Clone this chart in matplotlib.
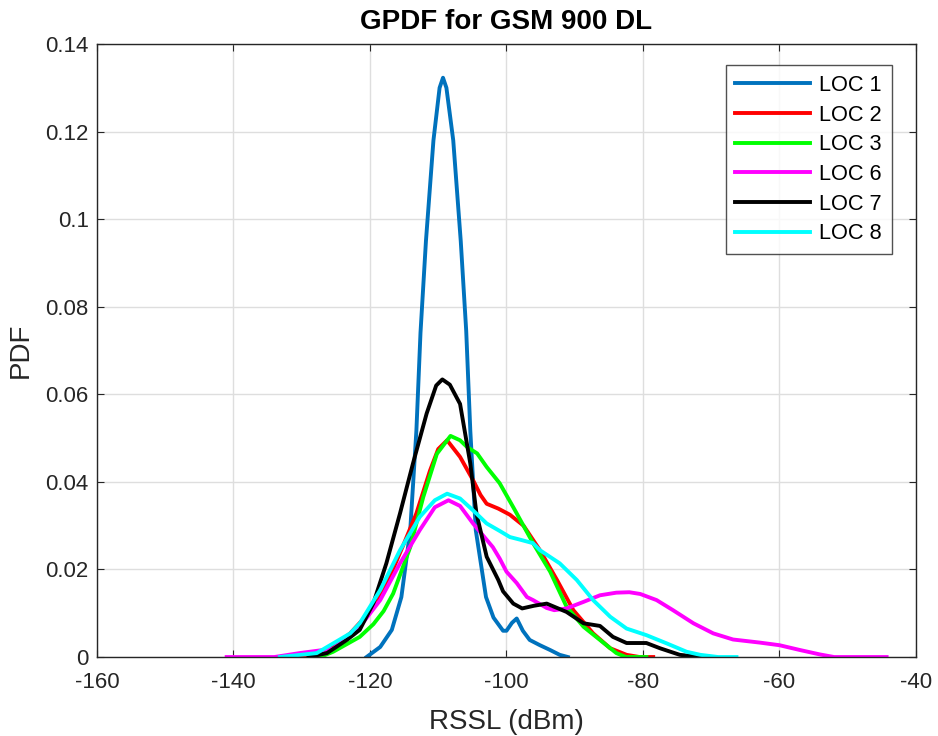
import matplotlib
matplotlib.use("Agg")
import matplotlib.pyplot as plt

plt.rcParams['font.family'] = ['Liberation Sans', 'DejaVu Sans']
plt.rcParams['axes.unicode_minus'] = False

# (RSSL in dBm, PDF)
loc1_x = [-120.5, -118.5, -116.8, -115.4, -114.1, -113.2, -112.6, -111.8, -110.7, -109.8,
          -109.3, -108.8, -107.8, -106.7, -105.9, -105.3, -104.5, -103.0, -101.9, -100.5,
          -100.0, -99.2, -98.5, -97.6, -96.6, -95.1, -93.6, -92.2, -91.0]
loc1_y = [0, 0.0023, 0.0062, 0.0137, 0.029, 0.0517, 0.074, 0.095, 0.118, 0.130,
          0.1323, 0.130, 0.118, 0.095, 0.0745, 0.0517, 0.029, 0.0137, 0.009, 0.006,
          0.006, 0.0078, 0.0088, 0.006, 0.0039, 0.0027, 0.0016, 0.0005, 0]

loc2_x = [-130.3, -127.5, -125.4, -122.9, -120.5, -118.5, -116.5, -115.0, -113.2, -111.2,
          -110.0, -108.7, -106.8, -104.9, -103.8, -102.9, -101.2, -99.5, -97.5, -95.1,
          -92.6, -90.2, -87.3, -84.8, -82.4, -80.5, -78.5]
loc2_y = [0, 0.0008, 0.0023, 0.0054, 0.0095, 0.014, 0.0205, 0.026, 0.0328, 0.0426,
          0.0475, 0.0495, 0.0457, 0.0404, 0.037, 0.035, 0.0339, 0.0325, 0.030, 0.0244,
          0.0176, 0.0107, 0.0054, 0.002, 0.0005, 0, 0]

loc3_x = [-127.3, -125.4, -121.5, -119.5, -118.0, -116.6, -114.1, -112.2, -110.2, -108.2,
          -106.8, -105.8, -104.3, -102.9, -101.0, -99.0, -98.5, -96.1, -93.6, -91.2,
          -88.7, -86.3, -83.9, -82.5, -79.5]
loc3_y = [0, 0.0012, 0.0046, 0.0075, 0.0105, 0.0145, 0.0251, 0.0365, 0.0464, 0.0505,
          0.0495, 0.048, 0.0465, 0.0434, 0.0397, 0.0342, 0.0328, 0.026, 0.0195, 0.0115,
          0.0069, 0.0039, 0.0009, 0, 0]

loc6_x = [-141.0, -134.0, -130.3, -125.4, -121.5, -118.5, -115.6, -112.7, -110.5, -108.5,
          -106.8, -104.9, -102.0, -101.0, -100.0, -98.5, -97.0, -96.1, -94.1, -93.0,
          -91.2, -88.7, -86.3, -83.9, -82.0, -80.4, -78.0, -75.6, -72.6, -69.7,
          -66.8, -62.9, -60.0, -57.0, -54.1, -52.0, -44.3]
loc6_y = [0, 0, 0.0009, 0.0019, 0.0069, 0.013, 0.0214, 0.029, 0.0342, 0.0358,
          0.0345, 0.0305, 0.0251, 0.0225, 0.0195, 0.0169, 0.0137, 0.013, 0.0112, 0.0107,
          0.0111, 0.0126, 0.0141, 0.0147, 0.0148, 0.0144, 0.013, 0.0107, 0.0077, 0.0054,
          0.004, 0.0033, 0.0027, 0.0016, 0.0006, 0, 0]

loc7_x = [-129.0, -126.3, -123.4, -121.5, -119.5, -117.6, -115.6, -113.7, -111.7, -110.3,
          -109.4, -108.3, -106.8, -105.3, -104.4, -102.9, -101.2, -100.5, -99.0, -97.7,
          -96.0, -94.1, -91.2, -88.7, -86.3, -84.4, -82.4, -79.5, -77.5, -74.6, -71.6]
loc7_y = [0, 0.0009, 0.0039, 0.0062, 0.0123, 0.0214, 0.0328, 0.0442, 0.0556, 0.062,
          0.0634, 0.0622, 0.0578, 0.0442, 0.0328, 0.0229, 0.0176, 0.015, 0.0122, 0.0111,
          0.0117, 0.0122, 0.0103, 0.0077, 0.0071, 0.0046, 0.0032, 0.0032, 0.002, 0.0005, 0]

loc8_x = [-133.2, -127.8, -122.9, -121.5, -118.5, -115.6, -112.7, -110.5, -108.7, -106.8,
          -104.9, -102.9, -101.0, -99.5, -98.0, -96.1, -95.1, -92.2, -89.7, -87.3,
          -84.8, -82.4, -79.5, -76.5, -73.6, -71.6, -69.0, -66.3]
loc8_y = [0, 0.0009, 0.0054, 0.0077, 0.0153, 0.0244, 0.032, 0.0358, 0.0373, 0.0362,
          0.0335, 0.0305, 0.0288, 0.0274, 0.0268, 0.026, 0.0244, 0.0214, 0.0176, 0.013,
          0.0092, 0.0065, 0.005, 0.0031, 0.0012, 0.0005, 0, 0]

labels = ['LOC 1', 'LOC 2', 'LOC 3', 'LOC 6', 'LOC 7', 'LOC 8']
colors = ['#0072BD', '#FF0000', '#00FF00', '#FF00FF', '#000000', '#00FFFF']
xs = [loc1_x, loc2_x, loc3_x, loc6_x, loc7_x, loc8_x]
ys = [loc1_y, loc2_y, loc3_y, loc6_y, loc7_y, loc8_y]

fig = plt.figure(figsize=(9.38, 7.36), dpi=100)
ax = fig.add_axes([0.1034, 0.1073, 0.8731, 0.8329])

for x, y, c, lab in zip(xs, ys, colors, labels):
    ax.plot(x, y, color=c, lw=2.8, label=lab)

ax.set_xlim(-160, -40)
ax.set_ylim(0, 0.14)
ax.set_xticks(range(-160, -39, 20))
ax.set_yticks([0, 0.02, 0.04, 0.06, 0.08, 0.1, 0.12, 0.14])
ax.set_yticklabels(['0', '0.02', '0.04', '0.06', '0.08', '0.1', '0.12', '0.14'])
ax.grid(True, color='#dedede', lw=1)
ax.set_axisbelow(True)
ax.tick_params(direction='in', top=True, right=True, labelsize=16, colors='#262626',
               length=5)
ax.tick_params(axis='x', pad=11)
ax.tick_params(axis='y', pad=6)
for s in ax.spines.values():
    s.set_color('#262626')
    s.set_linewidth(1)

ax.set_xlabel('RSSL (dBm)', fontsize=20, color='#262626', labelpad=11)
ax.set_ylabel('PDF', fontsize=20, color='#262626', labelpad=8)
ax.set_title('GPDF for GSM 900 DL', fontsize=20, fontweight='bold', pad=11)

leg = ax.legend(loc='upper right', bbox_to_anchor=(0.9707, 0.9657), fontsize=15.7,
                handlelength=3.4, frameon=True, fancybox=False, borderpad=0.45,
                labelspacing=0.4, handletextpad=0.45, borderaxespad=0)
leg.get_frame().set_edgecolor('#262626')
leg.get_frame().set_linewidth(1)

fig.savefig('out.png', dpi=100)
